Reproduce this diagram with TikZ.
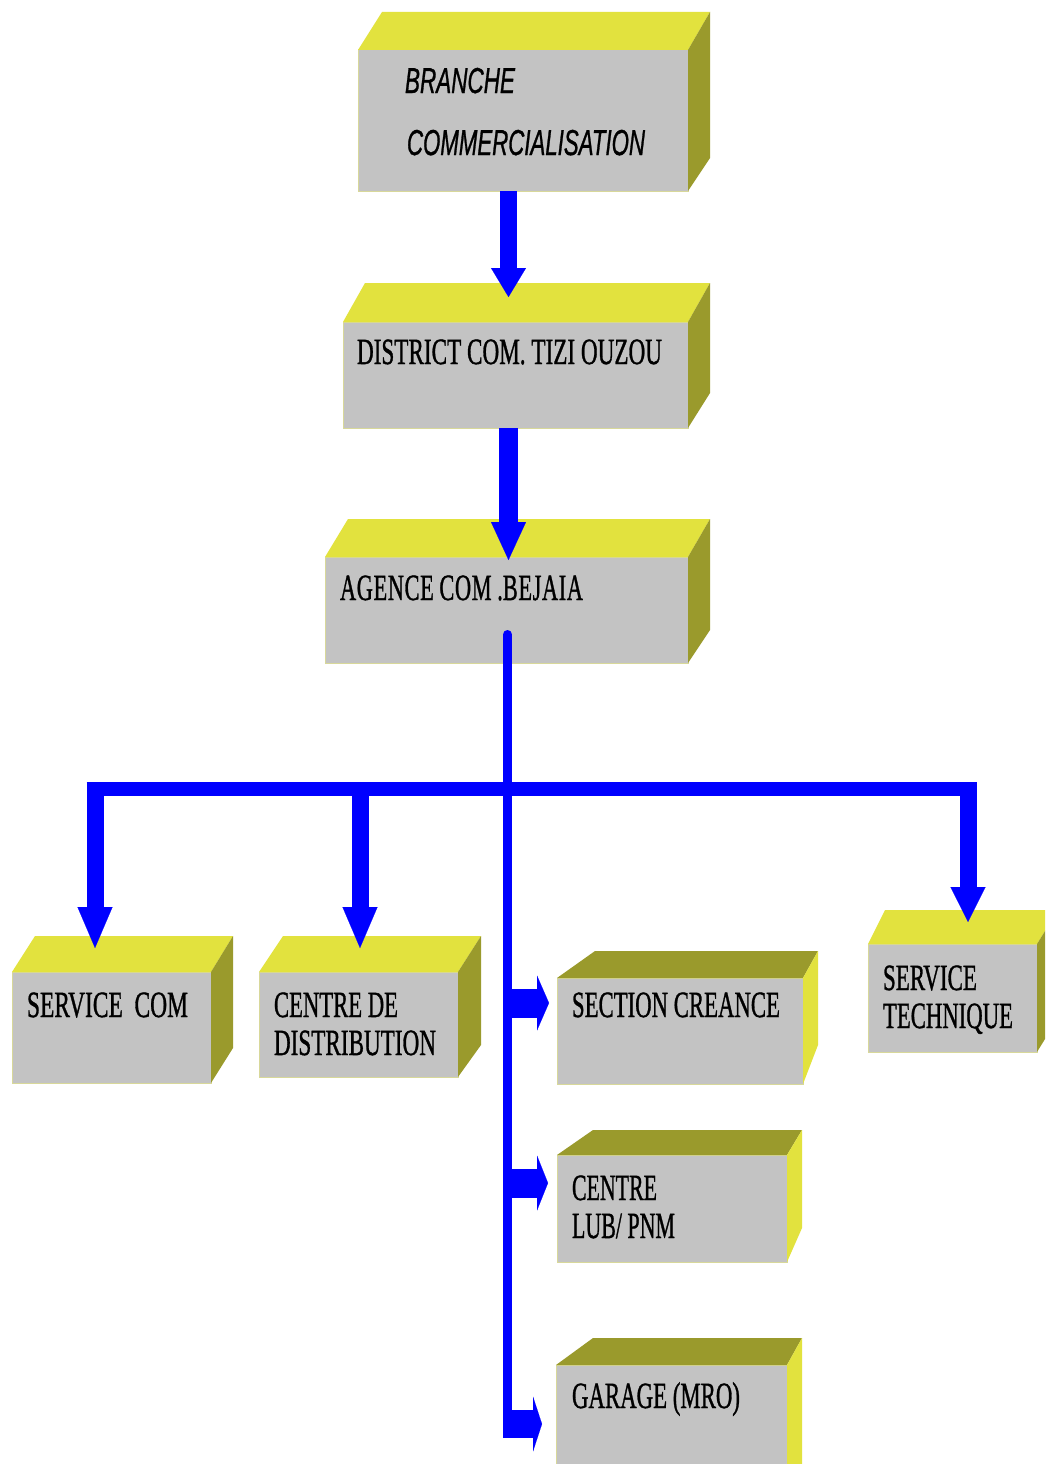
\documentclass[tikz,border=0pt]{standalone}
\usepackage{fontspec}
\usepackage{graphicx}
\setmainfont{Liberation Serif}[FakeBold=1.2]
\newfontfamily\serifh{Liberation Serif}[FakeBold=1.2]
\newfontfamily\arialf{Liberation Sans}[FakeBold=1.2]
\usetikzlibrary{arrows.meta}
\definecolor{boxgray}{HTML}{C3C3C3}
\definecolor{topyel}{HTML}{E2E23E}
\definecolor{sideol}{HTML}{9A9A2C}
\definecolor{edgeyel}{HTML}{D8D89A}
\definecolor{arrblue}{HTML}{0000FF}
\newcommand\fitw[2]{\resizebox{#1}{\height}{#2}}
\tikzset{
  cubefront/.style={draw=edgeyel, fill=boxgray, line width=1pt, inner sep=0pt, outer sep=0pt, anchor=north west},
  yfill/.style={fill=topyel},
  ofill/.style={fill=sideol},
  lbl/.style={anchor=base west, inner sep=0pt, outer sep=0pt, font=\fontsize{37}{37}\selectfont\serifh},
  droparr/.style={draw=arrblue, line width=17pt, -{Triangle[width=35pt,length=#1,line width=0.1pt]}},
  droparr/.default=40pt,
  brancharr/.style={draw=arrblue, line width=29pt, -{Triangle[width=55pt,length=#1,line width=0.1pt]}},
  brancharr/.default=12pt,
  spineline/.style={draw=arrblue, line width=9pt},
  barline/.style={draw=arrblue, line width=14pt}
}
\begin{document}
\begin{tikzpicture}[x=1pt,y=-1pt]
\useasboundingbox (0,0) rectangle (1045,1464);
\clip (0,0) rectangle (1045,1464);
\fill[white] (0,0) rectangle (1045,1464);

% ---------- BRANCHE COMMERCIALISATION
\node[cubefront, minimum width=330pt, minimum height=141pt] (branche) at (358,50) {};
\fill[yfill] (branche.north west) -- (382,12) -- (710,12) -- (branche.north east) -- cycle;
\fill[ofill] (branche.north east) -- (710,12) -- (710,158) -- (branche.south east) -- cycle;
\node[lbl, font=\fontsize{36}{36}\selectfont\arialf\itshape] (t1a) at (405,93) {\fitw{110pt}{BRANCHE}};
\node[lbl, font=\fontsize{36}{36}\selectfont\arialf\itshape] (t1b) at (407,155) {\fitw{238pt}{COMMERCIALISATION}};

% ---------- DISTRICT
\node[cubefront, minimum width=345pt, minimum height=106pt] (district) at (343,322) {};
\fill[yfill] (district.north west) -- (365,283) -- (710,283) -- (district.north east) -- cycle;
\fill[ofill] (district.north east) -- (710,283) -- (710,393) -- (district.south east) -- cycle;
\node[lbl] (t2) at (357,364) {\fitw{305pt}{DISTRICT COM. TIZI OUZOU}};

% ---------- AGENCE
\node[cubefront, minimum width=363pt, minimum height=106pt] (agence) at (325,557) {};
\fill[yfill] (agence.north west) -- (348,519) -- (710,519) -- (agence.north east) -- cycle;
\fill[ofill] (agence.north east) -- (710,519) -- (710,630) -- (agence.south east) -- cycle;
\node[lbl] (t3) at (340,600) {\fitw{243pt}{A\kern1pt G\kern1pt E\kern1pt N\kern1pt C\kern1pt E C\kern1pt O\kern1pt M .B\kern1pt E\kern1pt J\kern1pt A\kern1pt I\kern1pt A}};

% ---------- SERVICE COM
\node[cubefront, minimum width=199pt, minimum height=111pt] (scom) at (12,972) {};
\fill[yfill] (scom.north west) -- (35,936) -- (233,936) -- (scom.north east) -- cycle;
\fill[ofill] (scom.north east) -- (233,936) -- (233,1048) -- (scom.south east) -- cycle;
\node[lbl] (t4) at (27,1017) {\fitw{161pt}{SERVICE\ \ COM}};

% ---------- CENTRE DE DISTRIBUTION
\node[cubefront, minimum width=199pt, minimum height=105pt] (cdd) at (259,972) {};
\fill[yfill] (cdd.north west) -- (283,936) -- (481,936) -- (cdd.north east) -- cycle;
\fill[ofill] (cdd.north east) -- (481,936) -- (481,1045) -- (cdd.south east) -- cycle;
\node[lbl] (t5a) at (274,1017) {\fitw{124pt}{CENTRE DE}};
\node[lbl] (t5b) at (274,1055) {\fitw{162pt}{DISTRIBUTION}};

% ---------- SERVICE TECHNIQUE
\node[cubefront, minimum width=169pt, minimum height=108pt] (tech) at (868,944) {};
\fill[yfill] (tech.north west) -- (885,910) -- (1058,910) -- (tech.north east) -- cycle;
\fill[ofill] (tech.north east) -- (1058,910) -- (1058,1018) -- (tech.south east) -- cycle;
\node[lbl] (t6a) at (883,990) {\fitw{94pt}{SERVICE}};
\node[lbl] (t6b) at (883,1028) {\fitw{130pt}{TECHNIQUE}};

% ---------- SECTION CREANCE
\node[cubefront, minimum width=246pt, minimum height=106pt] (section) at (557,978) {};
\fill[ofill] (section.north west) -- (595,951) -- (818,951) -- (section.north east) -- cycle;
\fill[yfill] (section.north east) -- (818,951) -- (818,1045) -- (section.south east) -- cycle;
\node[lbl] (t7) at (572,1017) {\fitw{208pt}{SECTION CREANCE}};

% ---------- CENTRE LUB/PNM
\node[cubefront, minimum width=230pt, minimum height=107pt] (lub) at (557,1155) {};
\fill[ofill] (lub.north west) -- (593,1130) -- (802,1130) -- (lub.north east) -- cycle;
\fill[yfill] (lub.north east) -- (802,1130) -- (802,1228) -- (lub.south east) -- cycle;
\node[lbl] (t8a) at (572,1200) {\fitw{85pt}{CENTRE}};
\node[lbl] (t8b) at (572,1238) {\fitw{103pt}{LUB/ PNM}};

% ---------- GARAGE
\node[cubefront, minimum width=231pt, minimum height=115pt] (garage) at (556,1365) {};
\fill[ofill] (garage.north west) -- (593,1338) -- (802,1338) -- (garage.north east) -- cycle;
\fill[yfill] (garage.north east) -- (802,1338) -- (802,1480) -- (garage.south east) -- cycle;
\node[lbl] (t9) at (572,1408) {\fitw{168pt}{GARAGE (MRO)}};

% ---------- connectors
\draw[draw=arrblue, line width=17pt, -{Triangle[width=35pt,length=29pt,line width=0.1pt]}]
  ([xshift=-14.5pt]branche.south) -- ([xshift=-7pt,yshift=25pt]district.north);
\draw[draw=arrblue, line width=19pt, -{Triangle[width=35pt,length=38pt,line width=0.1pt]}]
  ([xshift=-7pt]district.south) -- ([xshift=2pt,yshift=-3pt]agence.north);

\coordinate (spineTop) at ([xshift=1pt,yshift=28.5pt]agence.south);
\coordinate (spineBot) at (507.5,1425);
\coordinate (barY) at (0,789);
\coordinate (scomTip) at ([xshift=-16.5pt,yshift=24pt]scom.north);
\coordinate (cddTip) at ([xshift=1.5pt,yshift=24pt]cdd.north);
\coordinate (techTip) at ([xshift=15.5pt,yshift=22pt]tech.north);
\coordinate (secTip) at ([xshift=-8pt,yshift=28pt]section.west);
\coordinate (lubTip) at ([xshift=-9pt,yshift=25.5pt]lub.west);
\coordinate (garTip) at ([xshift=-14pt,yshift=-1.5pt]garage.west);
\coordinate (spineL) at ([xshift=-4.5pt]spineTop);

\path (scomTip |- barY) coordinate (b1) (cddTip |- barY) coordinate (b2) (techTip |- barY) coordinate (b3);
\draw[barline] ([xshift=-8.5pt]b1) -- ([xshift=8.5pt]b3);
\draw[droparr=41pt] ([yshift=7pt]b1) -- (scomTip);
\draw[droparr=41pt] ([yshift=7pt]b2) -- (cddTip);
\draw[droparr=35pt] ([yshift=7pt]b3) -- (techTip);

\draw[spineline, line cap=round] (spineTop) -- (spineBot);
\draw[brancharr=12pt] (spineTop |- secTip) -- (secTip);
\draw[brancharr=11pt] (spineTop |- lubTip) -- (lubTip);
\draw[brancharr=9pt, line width=28pt] (spineL |- garTip) -- (garTip);
\end{tikzpicture}
\end{document}
